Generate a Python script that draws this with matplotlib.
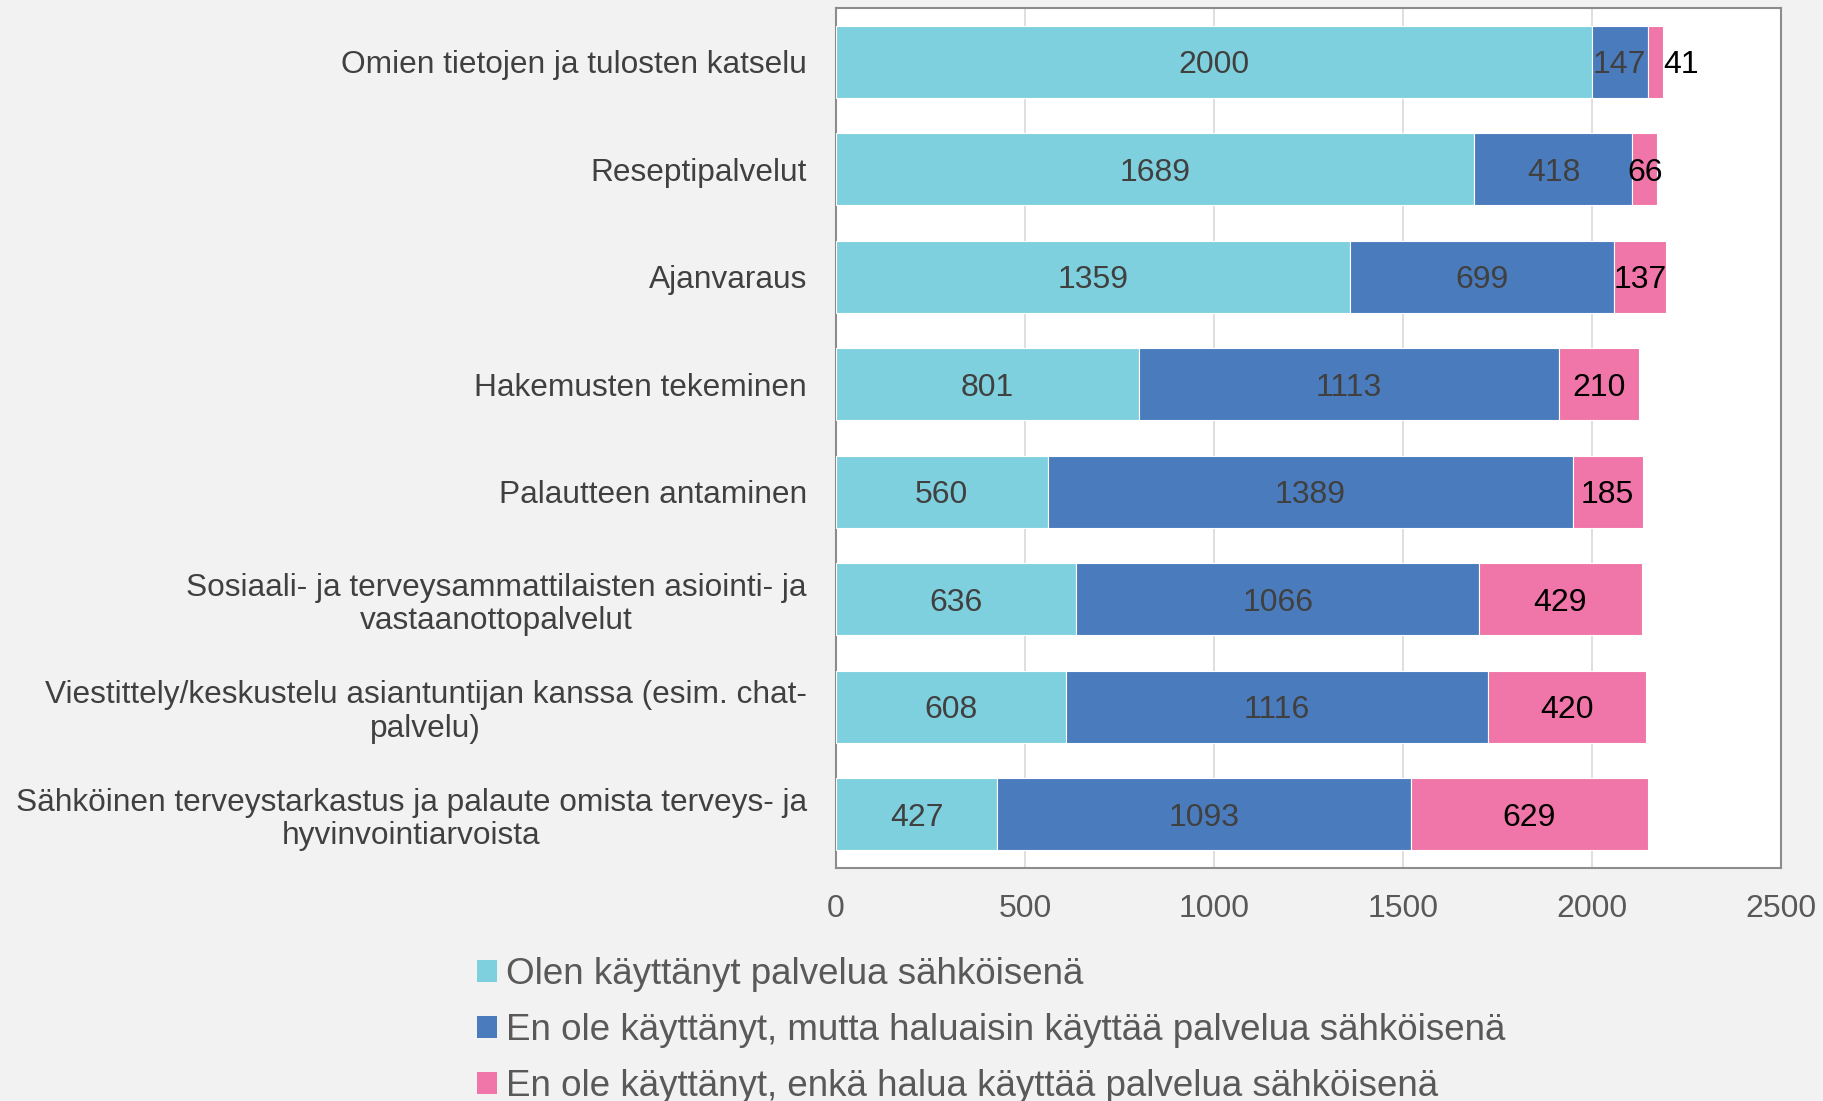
import numpy as np
import matplotlib.pyplot as plt
from matplotlib.patches import Patch

plt.rcParams['font.family'] = ['Liberation Sans', 'DejaVu Sans']

categories = [
    'Omien tietojen ja tulosten katselu',
    'Reseptipalvelut',
    'Ajanvaraus',
    'Hakemusten tekeminen',
    'Palautteen antaminen',
    'Sosiaali- ja terveysammattilaisten asiointi- ja\nvastaanottopalvelut',
    'Viestittely/keskustelu asiantuntijan kanssa (esim. chat-\npalvelu)',
    'Sähköinen terveystarkastus ja palaute omista terveys- ja\nhyvinvointiarvoista',
]
used = [2000, 1689, 1359, 801, 560, 636, 608, 427]
would_use = [147, 418, 699, 1113, 1389, 1066, 1116, 1093]
not_use = [41, 66, 137, 210, 185, 429, 420, 629]

series_names = [
    'Olen käyttänyt palvelua sähköisenä',
    'En ole käyttänyt, mutta haluaisin käyttää palvelua sähköisenä',
    'En ole käyttänyt, enkä halua käyttää palvelua sähköisenä',
]
colors = ['#7fd0de', '#4a7bbd', '#f075a8']
text_colors = ['#404040', '#404040', 'black']

fig = plt.figure(figsize=(18.23, 11.01), dpi=100, facecolor='#f2f2f2')
ax = fig.add_axes([836 / 1823, 1 - 868 / 1101, (1781 - 836) / 1823, (868 - 8) / 1101])
ax.set_facecolor('white')

y = np.arange(len(categories))
left = np.zeros(len(categories))
for vals, col, tc in zip([used, would_use, not_use], colors, text_colors):
    vals = np.array(vals)
    ax.barh(y, vals, left=left, height=0.67, color=col, edgecolor='white', linewidth=0.8, zorder=3)
    for yi, l, v in zip(y, left, vals):
        if v < 50:
            # too narrow, label goes just past the bar end
            ax.text(l + v, yi, str(v), ha='left', va='center_baseline', fontsize=23, color=tc, zorder=4)
        else:
            ax.text(l + v / 2, yi, str(v), ha='center', va='center_baseline', fontsize=23, color=tc, zorder=4)
    left = left + vals

ax.set_xlim(0, 2500)
ax.set_ylim(len(categories) - 0.5, -0.5)
ax.set_xticks(np.arange(0, 2501, 500))
ax.set_yticks(y)
ax.set_yticklabels(categories, fontsize=22.8, color='#404040', multialignment='center', linespacing=1.15)
ax.tick_params(axis='x', labelsize=23, colors='#595959', length=0, pad=19)
ax.tick_params(axis='y', length=0, pad=21)
ax.grid(axis='x', color='#d9d9d9', linewidth=1.2, zorder=0)
for s in ax.spines.values():
    s.set_color('#8c8c8c')
    s.set_linewidth(1.5)

handles = [Patch(facecolor=c, edgecolor='none') for c in colors]
fig.legend(handles, series_names, loc='upper left', bbox_to_anchor=(462 / 1823, 1 - 942 / 1101),
           frameon=False, fontsize=26.5, labelcolor='#595959', handlelength=0.55, handleheight=0.55,
           handletextpad=0.25, labelspacing=0.57, borderaxespad=0)

fig.savefig('out.png', dpi=100, facecolor=fig.get_facecolor())
